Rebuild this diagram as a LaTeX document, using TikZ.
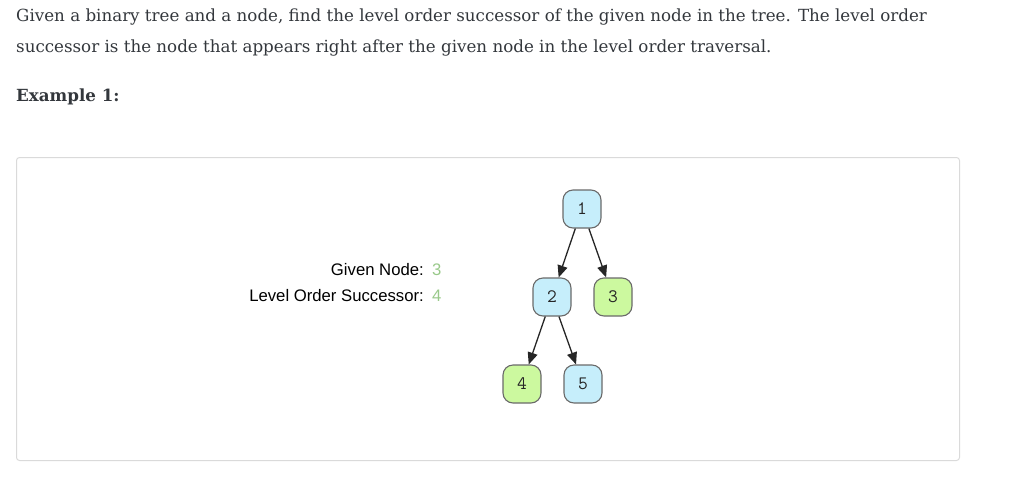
\documentclass[tikz,border=0pt]{standalone}
\usepackage{fontspec}
\usetikzlibrary{arrows.meta}
\newfontfamily\bodyfont{DejaVu Serif}
\newfontfamily\labelfont{Liberation Sans}
\definecolor{bodytext}{HTML}{33373C}
\definecolor{boxline}{HTML}{DADADA}
\definecolor{treeblue}{HTML}{C6EEFB}
\definecolor{treegreen}{HTML}{CCF99F}
\definecolor{nodeline}{HTML}{6A6A6A}
\definecolor{edgecol}{HTML}{262626}
\definecolor{numgreen}{HTML}{99C98A}
\tikzset{
  bodyline/.style={anchor=base west, inner sep=0pt, text=bodytext, font=\bodyfont\fontsize{16.7}{19}\selectfont},
  tnode/.style={draw=nodeline, line width=1.1pt, rounded corners=10pt, minimum width=38pt, minimum height=38pt, inner sep=0pt, font=\ttfamily\fontsize{19}{20}\selectfont, text=black!85},
  bluenode/.style={tnode, fill=treeblue},
  greennode/.style={tnode, fill=treegreen},
  lbl/.style={anchor=base east, inner sep=0pt, font=\labelfont\fontsize{16.7}{18}\selectfont, text=black},
  val/.style={anchor=base west, inner sep=0pt, font=\labelfont\fontsize{16.7}{18}\selectfont, text=numgreen},
  edge/.style={draw=edgecol, line width=1.3pt, -{Triangle[length=12pt,width=10pt]}}
}
\begin{document}
\begin{tikzpicture}[x=1pt,y=-1pt]
\useasboundingbox (0,0) rectangle (1034,483);
\node[bodyline] (t1) at (16,21) {Given a binary tree and a node, find the level order successor of the given node in the tree. The level order};
\node[bodyline] (t2) at (16,52) {successor is the node that appears right after the given node in the level order traversal.};
\node[bodyline, font=\bodyfont\bfseries\fontsize{16.7}{19}\selectfont] (ex) at (16,101) {Example 1:};
\draw[boxline, line width=1pt, rounded corners=3pt] (16.5,157.5) rectangle (959.5,460.5);
\node[lbl] (gn) at (424,275) {Given Node:};
\node[val] (gv) at (432,275) {3};
\node[lbl] (ls) at (424,301) {Level Order Successor:};
\node[val] (lv) at (432,301) {4};
\node[bluenode] (n1) at (582,209) {1};
\node[bluenode] (n2) at (552,297) {2};
\node[greennode] (n3) at (613,297) {3};
\node[greennode] (n4) at (522,384) {4};
\node[bluenode] (n5) at (583,384) {5};
\draw[edge] (n1) -- (n2);
\draw[edge] (n1) -- (n3);
\draw[edge] (n2) -- (n4);
\draw[edge] (n2) -- (n5);
\end{tikzpicture}
\end{document}
